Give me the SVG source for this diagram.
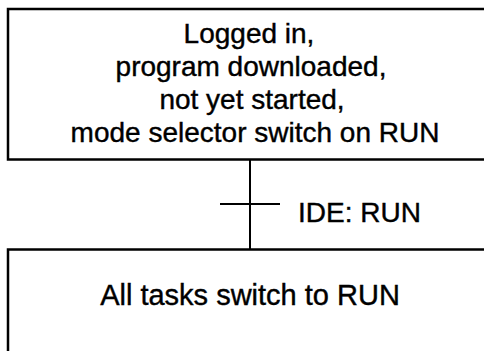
<svg xmlns="http://www.w3.org/2000/svg" width="484" height="351" viewBox="0 0 484 351">
<style>
.box{fill:#fff;stroke:#000;stroke-width:2.5}
.ln{stroke:#000;stroke-width:2;fill:none}
text{font-family:"Liberation Sans",Arial,sans-serif;font-size:28px;fill:#000;stroke:#000;stroke-width:0.4}
.c{text-anchor:middle}
</style>
<rect width="484" height="351" fill="#fff"/>
<g id="step1">
<path class="box" d="M490,9 H8 V159.5 H490"/>
<text class="c" x="249" y="43">Logged in,</text>
<text class="c" x="251" y="76">program downloaded,</text>
<text class="c" x="252" y="109">not yet started,</text>
<text class="c" x="255" y="142">mode selector switch on RUN</text>
</g>
<g id="connectors">
<line class="ln" x1="250" y1="160" x2="250" y2="249"/>
</g>
<g id="transition">
<line class="ln" x1="220" y1="204" x2="280" y2="204"/>
<text x="298" y="221.5">IDE: RUN</text>
</g>
<g id="step2">
<path class="box" d="M490,249.5 H8 V360"/>
<text class="c" x="250" y="305" style="font-size:29px">All tasks switch to RUN</text>
</g>
</svg>
